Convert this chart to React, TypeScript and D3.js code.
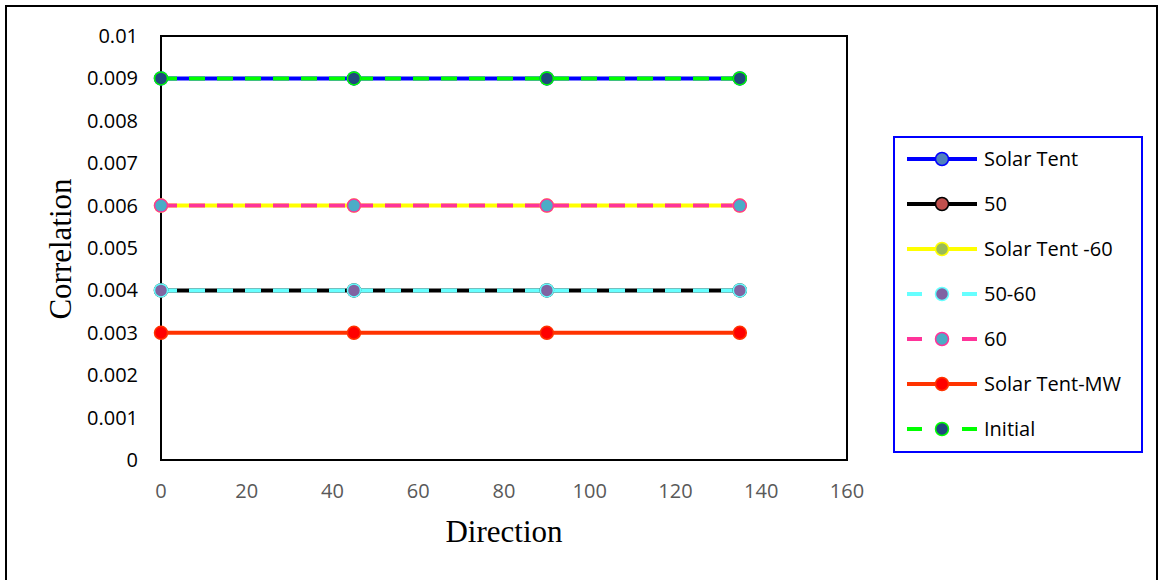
import React from "react";
import * as d3 from "d3";

// chart data
const directions = [0, 45, 90, 135];
const seriesNames = ["Solar Tent", "50", "Solar Tent -60", "50-60", "60", "Solar Tent-MW", "Initial"];
const solarTent = [0.009, 0.009, 0.009, 0.009];
const fifty = [0.004, 0.004, 0.004, 0.004];
const solarTent60 = [0.006, 0.006, 0.006, 0.006];
const fiftySixty = [0.004, 0.004, 0.004, 0.004];
const sixty = [0.006, 0.006, 0.006, 0.006];
const solarTentMW = [0.003, 0.003, 0.003, 0.003];
const initial = [0.009, 0.009, 0.009, 0.009];
const yTicks = [0, 0.001, 0.002, 0.003, 0.004, 0.005, 0.006, 0.007, 0.008, 0.009, 0.01];
const xTicks = [0, 20, 40, 60, 80, 100, 120, 140, 160];

const allValues = [solarTent, fifty, solarTent60, fiftySixty, sixty, solarTentMW, initial];

// styles per series: line colour, marker fill, dashed?
const styles = [
    { line: "#0000FF", fill: "#4F81BD", dashed: false },
    { line: "#000000", fill: "#C0504D", dashed: false },
    { line: "#FFFF00", fill: "#9BBB59", dashed: false },
    { line: "#66FFFF", fill: "#8064A2", dashed: true },
    { line: "#FF3399", fill: "#4BACC6", dashed: true },
    { line: "#FF3300", fill: "#FF0000", dashed: false },
    { line: "#00FF00", fill: "#1F497D", dashed: true },
];

const W = 1160;
const H = 580;
const plot = { left: 161, top: 36, right: 847, bottom: 460 };
const tickFont = "'Open Sans', sans-serif";

export default function App() {
    const x = d3.scaleLinear().domain([0, 160]).range([plot.left, plot.right]);
    const y = d3.scaleLinear().domain([0, 0.01]).range([plot.bottom, plot.top]);

    const line = d3.line<number>()
        .x((d, i) => x(directions[i]))
        .y((d) => y(d));

    const legendX = 894;
    const legendTop = 159;
    const legendStep = 45;

    return (
        <svg width={W} height={H} style={{ position: "absolute", left: 0, top: 0 }}>
            <rect x={0} y={0} width={W} height={H} fill="#fff" />
            {/* outer frame */}
            <rect x={6} y={6} width={1151} height={600} fill="none" stroke="#000" strokeWidth={2} />

            {/* plot frame */}
            <rect x={plot.left} y={plot.top} width={plot.right - plot.left} height={plot.bottom - plot.top}
                fill="none" stroke="#000" strokeWidth={2} />

            {/* y tick labels */}
            {yTicks.map((t) => (
                <text key={"y" + t} x={138} y={y(t)} dy="0.35em" textAnchor="end"
                    fontFamily={tickFont} fontSize={20} fill="#000">
                    {t === 0 ? "0" : d3.format(".3~f")(t)}
                </text>
            ))}

            {/* x tick labels */}
            {xTicks.map((t) => (
                <text key={"x" + t} x={x(t)} y={498} textAnchor="middle"
                    fontFamily={tickFont} fontSize={20} fill="#595959">
                    {t}
                </text>
            ))}

            {/* series lines */}
            {allValues.map((vals, i) => (
                <path key={"l" + i} d={line(vals) || ""} fill="none" stroke={styles[i].line}
                    strokeWidth={4} strokeDasharray={styles[i].dashed ? "16 12" : undefined} />
            ))}

            {/* markers */}
            {allValues.map((vals, i) => (
                <g key={"m" + i}>
                    {vals.map((v, j) => (
                        <circle key={j} cx={x(directions[j])} cy={y(v)} r={6.5}
                            fill={styles[i].fill} stroke={styles[i].line} strokeWidth={1.5} />
                    ))}
                </g>
            ))}

            {/* axis titles */}
            <text x={504} y={542} textAnchor="middle" fontFamily="'Liberation Serif', serif" fontSize={31} fill="#000">
                Direction
            </text>
            <text transform={`translate(71, 249) rotate(-90)`} textAnchor="middle"
                fontFamily="'Liberation Serif', serif" fontSize={31} fill="#000">
                Correlation
            </text>

            {/* legend */}
            <rect x={legendX} y={137} width={248} height={315} fill="#fff" stroke="#0000FF" strokeWidth={2} />
            {seriesNames.map((name, i) => {
                const ly = legendTop + i * legendStep;
                const s = styles[i];
                return (
                    <g key={"lg" + i}>
                        {s.dashed ? (
                            <>
                                <line x1={907} x2={922} y1={ly} y2={ly} stroke={s.line} strokeWidth={4} />
                                <line x1={962} x2={977} y1={ly} y2={ly} stroke={s.line} strokeWidth={4} />
                            </>
                        ) : (
                            <line x1={907} x2={977} y1={ly} y2={ly} stroke={s.line} strokeWidth={4} />
                        )}
                        <circle cx={942} cy={ly} r={6.5} fill={s.fill} stroke={s.line} strokeWidth={1.5} />
                        <text x={984} y={ly} dy="0.35em" fontFamily={tickFont} fontSize={20} fill="#000">
                            {name}
                        </text>
                    </g>
                );
            })}
        </svg>
    );
}
